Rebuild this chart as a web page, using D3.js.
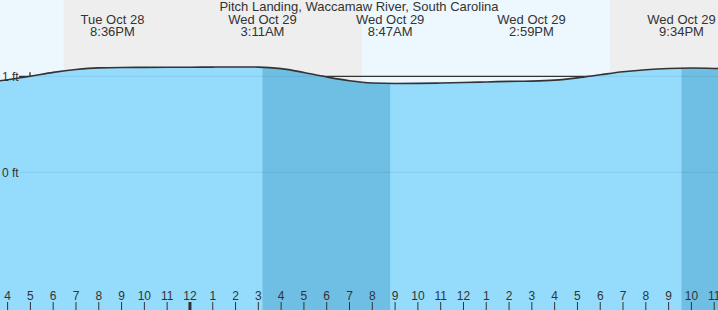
<!DOCTYPE html>
<html lang="en">
<head>
<meta charset="utf-8">
<title>Pitch Landing tide</title>
<script src="https://cdn.jsdelivr.net/npm/d3@7"></script>
<style>
  body { margin: 0; background: #fff; }
  svg { display: block; font-family: "Liberation Sans", Arial, sans-serif; }
</style>
</head>
<body>
<script>
// tide heights, hourly (ft)
var tideTimes = ["2025-10-28T15:00","2025-10-28T16:00","2025-10-28T17:00","2025-10-28T18:00","2025-10-28T19:00",
  "2025-10-28T20:00","2025-10-28T21:00","2025-10-28T22:00","2025-10-28T23:00","2025-10-29T00:00",
  "2025-10-29T01:00","2025-10-29T02:00","2025-10-29T03:00","2025-10-29T04:00","2025-10-29T05:00",
  "2025-10-29T06:00","2025-10-29T07:00","2025-10-29T08:00","2025-10-29T09:00","2025-10-29T10:00",
  "2025-10-29T11:00","2025-10-29T12:00","2025-10-29T13:00","2025-10-29T14:00","2025-10-29T15:00",
  "2025-10-29T16:00","2025-10-29T17:00","2025-10-29T18:00","2025-10-29T19:00","2025-10-29T20:00",
  "2025-10-29T21:00","2025-10-29T22:00","2025-10-29T23:00","2025-10-30T00:00"];
var tideHeights = [0.931,0.964,1.000,1.041,1.071,
  1.088,1.092,1.093,1.094,1.095,
  1.096,1.097,1.096,1.080,1.040,
  0.993,0.953,0.930,0.925,0.926,
  0.930,0.935,0.941,0.947,0.950,
  0.960,0.984,1.016,1.047,1.069,
  1.082,1.086,1.082,1.074];

// tide events shown along the top
var eventTimes = ["2025-10-28T20:36","2025-10-29T03:11","2025-10-29T08:47","2025-10-29T14:59","2025-10-29T21:34"];
var eventDays = ["Tue Oct 28","Wed Oct 29","Wed Oct 29","Wed Oct 29","Wed Oct 29"];
var eventClock = ["8:36PM","3:11AM","8:47AM","2:59PM","9:34PM"];

// falling tide stretches (darker water)
var fallStart = ["2025-10-29T03:11","2025-10-29T21:34"];
var fallEnd = ["2025-10-29T08:47","2025-10-30T00:00"];

// night (sunset to sunrise)
var nightStart = ["2025-10-28T18:28","2025-10-29T18:26"];
var nightEnd = ["2025-10-29T07:33","2025-10-30T07:00"];

var yTicks = [0, 1];
var title = "Pitch Landing, Waccamaw River, South Carolina";

var w = 718, h = 310;
var parse = d3.utcParse("%Y-%m-%dT%H:%M");

var x = d3.scaleUtc()
  .domain([parse("2025-10-28T15:40"), parse("2025-10-29T23:10")])
  .range([0, w]);
var y = d3.scaleLinear().domain([0, 1]).range([172.3, 76.3]);

var tide = tideTimes.map(function(t, i) { return {t: parse(t), v: tideHeights[i]}; });

var svg = d3.select("body").append("svg").attr("width", w).attr("height", h);

// sky: day background then night bands
svg.append("rect").attr("width", w).attr("height", h).attr("fill", "#edf7fe");
svg.selectAll("rect.night").data(nightStart).enter().append("rect")
  .attr("class", "night")
  .attr("x", function(d) { return x(parse(d)); })
  .attr("width", function(d, i) { return x(parse(nightEnd[i])) - x(parse(d)); })
  .attr("y", 0).attr("height", h)
  .attr("fill", "#eeeeee");

// 1 ft line above the water
svg.append("line").attr("x1", 19).attr("x2", w)
  .attr("y1", y(1)).attr("y2", y(1))
  .attr("stroke", "#333").attr("stroke-width", 1.3);
svg.append("line").attr("x1", 30).attr("x2", 30)
  .attr("y1", y(1) - 4).attr("y2", y(1) + 4)
  .attr("stroke", "#333").attr("stroke-width", 1.3);

var area = d3.area().curve(d3.curveMonotoneX)
  .x(function(d) { return x(d.t); })
  .y0(h)
  .y1(function(d) { return y(d.v); });

svg.append("clipPath").attr("id", "water")
  .append("path").datum(tide).attr("d", area);

var water = svg.append("g").attr("clip-path", "url(#water)");
water.append("rect").attr("width", w).attr("height", h).attr("fill", "#95dcfc");
water.selectAll("rect.fall").data(fallStart).enter().append("rect")
  .attr("class", "fall")
  .attr("x", function(d) { return x(parse(d)); })
  .attr("width", function(d, i) { return x(parse(fallEnd[i])) - x(parse(d)); })
  .attr("y", 0).attr("height", h)
  .attr("fill", "#6fbfe4");

// faint grid in the water
water.selectAll("line.grid").data(yTicks).enter().append("line")
  .attr("x1", 20).attr("x2", w)
  .attr("y1", function(d) { return y(d); })
  .attr("y2", function(d) { return y(d); })
  .attr("stroke", "rgba(0,60,110,0.1)");

svg.append("path").datum(tide)
  .attr("d", d3.line().curve(d3.curveMonotoneX)
    .x(function(d) { return x(d.t); })
    .y(function(d) { return y(d.v); }))
  .attr("fill", "none").attr("stroke", "#333").attr("stroke-width", 1.6);

// y labels
svg.selectAll("text.ylab").data(yTicks).enter().append("text")
  .attr("x", 2).attr("y", function(d) { return y(d); })
  .attr("dy", "0.35em")
  .attr("font-size", 12).attr("fill", "#333")
  .text(function(d) { return d + " ft"; });

// title and event labels
svg.append("text").attr("x", 359).attr("y", 11)
  .attr("text-anchor", "middle").attr("font-size", 13).attr("fill", "#333")
  .text(title);

var ev = svg.selectAll("g.ev").data(eventTimes).enter().append("g")
  .attr("transform", function(d) { return "translate(" + x(parse(d)) + ",0)"; });
ev.append("text").attr("y", 24).attr("text-anchor", "middle")
  .attr("font-size", 13).attr("fill", "#333")
  .text(function(d, i) { return eventDays[i]; });
ev.append("text").attr("y", 36).attr("text-anchor", "middle")
  .attr("font-size", 13).attr("fill", "#333")
  .text(function(d, i) { return eventClock[i]; });

// hour axis along the bottom
var hours = x.ticks(d3.utcHour.every(1));
var ax = svg.selectAll("g.hr").data(hours).enter().append("g")
  .attr("transform", function(d) { return "translate(" + x(d) + ",0)"; });
ax.append("line").attr("y1", 302).attr("y2", h)
  .attr("stroke", "#333")
  .attr("stroke-width", function(d) { return d.getUTCHours() === 0 ? 3 : 1; });
ax.append("text").attr("y", 300).attr("text-anchor", "middle")
  .attr("font-size", 12).attr("fill", "#333")
  .text(d3.utcFormat("%-I"));
</script>
</body>
</html>
